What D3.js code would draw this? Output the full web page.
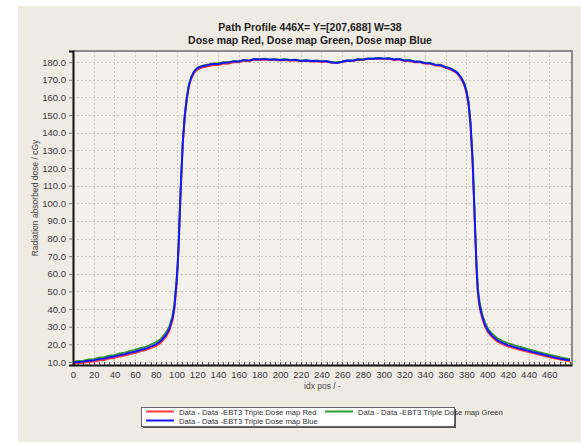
<!DOCTYPE html>
<html>
<head>
<meta charset="utf-8">
<script src="https://cdn.jsdelivr.net/npm/d3@7"></script>
<style>
  html, body { margin: 0; padding: 0; background: #ffffff; }
  svg { display: block; font-family: "Liberation Sans", Arial, sans-serif; }
</style>
</head>
<body>
<svg id="chart" width="581" height="444"></svg>
<script>
// Profile sample positions (idx pos)
const idxPos = [0,5,10,15,20,25,30,35,40,45,50,55,60,65,70,75,80,85,90,93,96,98,100,101,102,103,104,106,108,110,112,114,116,118,120,123,126,130,
  135,140,145,150,155,160,165,170,175,180,185,190,195,200,205,210,215,220,225,230,235,240,245,250,255,260,265,270,275,280,285,290,295,300,305,310,315,320,325,330,335,340,345,350,355,360,365,
  370,372,375,378,380,382,384,386,388,389,390,391,392,393,395,398,401,405,410,415,420,425,430,435,440,445,450,455,460,465,470,475,480];

// Radiation absorbed dose (cGy) per dose map channel
const doseRed = [9.0,9.4,9.5,10.0,10.2,10.8,11.1,11.9,12.3,13.1,13.6,14.5,15.0,16.0,16.7,17.9,19.0,21.0,24.4,27.6,33.2,40.0,53.5,62.5,74.5,90.5,106.5,132.5,149.0,159.0,166.2,170.3,172.8,174.6,175.7,176.6,177.1,177.6,
  178.2,178.3,179.0,179.1,179.9,179.9,180.7,180.5,181.3,181.2,181.5,181.2,181.2,180.9,181.1,180.8,181.0,180.4,180.7,180.3,180.5,180.1,180.3,179.6,179.7,180.0,180.7,180.6,181.2,181.2,181.8,181.7,182.0,181.7,181.9,181.2,181.4,180.7,180.7,179.9,179.9,179.1,179.0,178.0,177.9,176.7,175.7,
  174.0,172.8,170.3,166.8,162.5,156.0,143.5,122.5,90.5,74.5,59.5,49.5,44.2,40.2,35.3,30.0,26.6,24.0,21.5,20.0,18.9,18.0,17.2,16.4,15.6,14.9,14.2,13.5,12.8,12.1,11.5,10.9,10.4];

const doseGreen = [10.1,10.6,10.8,11.5,11.6,12.4,12.7,13.6,13.9,14.9,15.3,16.3,16.8,17.9,18.5,19.9,21.0,23.2,26.8,30.0,35.8,42.8,56.3,65.0,77.0,93.0,108.8,134.5,150.4,160.3,167.3,171.3,173.8,175.6,176.7,177.6,178.1,178.6,
  179.2,179.2,179.9,179.9,180.6,180.5,181.2,181.0,181.8,181.6,181.9,181.5,181.7,181.3,181.6,181.2,181.4,180.8,181.1,180.7,180.9,180.5,180.7,180.0,180.1,180.3,181.0,180.9,181.6,181.5,182.1,182.0,182.3,182.0,182.2,181.6,181.8,181.1,181.2,180.4,180.4,179.6,179.5,178.6,178.5,177.3,176.4,
  174.8,173.7,171.4,168.0,164.0,157.8,146.0,125.5,93.5,77.5,62.5,52.6,47.0,43.0,37.8,32.2,28.7,26.0,23.4,21.9,20.7,19.7,18.9,18.1,17.2,16.4,15.6,14.8,14.1,13.4,12.7,12.1,11.6];

const doseBlue = [9.6,10.0,10.2,10.7,10.9,11.6,11.9,12.7,13.1,13.9,14.4,15.3,15.8,16.8,17.5,18.7,19.9,22.0,25.5,28.8,34.5,41.5,55.0,64.0,76.0,92.0,108.0,134.0,150.0,160.0,167.0,171.0,173.5,175.3,176.4,177.3,177.8,178.3,
  178.9,178.9,179.6,179.7,180.4,180.3,181.1,180.8,181.6,181.5,181.7,181.4,181.5,181.2,181.4,181.1,181.2,180.7,180.9,180.6,180.7,180.4,180.5,179.8,179.4,180.2,180.9,180.8,181.5,181.4,182.0,181.9,182.2,182.0,182.1,181.5,181.7,180.9,181.0,180.2,180.2,179.4,179.3,178.4,178.3,177.1,176.2,
  174.5,173.4,171.0,167.5,163.5,157.0,145.0,124.0,92.0,76.0,61.0,51.0,45.5,41.5,36.5,31.0,27.5,24.8,22.3,20.8,19.6,18.7,17.9,17.1,16.3,15.5,14.8,14.0,13.3,12.6,12.0,11.4,10.9];

const xTickValues = d3.range(0, 461, 20);
const yTickValues = d3.range(10, 181, 10);

const titleLines = ["Path Profile 446X= Y=[207,688] W=38", "Dose map Red, Dose map Green, Dose map Blue"];
const xTitle = "idx pos / -";
const yTitle = "Radiation absorbed dose / cGy";

const seriesList = [
  { name: "Data - Data -EBT3 Triple Dose map Red", values: doseRed, color: "#ff3a3a" },
  { name: "Data - Data -EBT3 Triple Dose map Green", values: doseGreen, color: "#2f9a2f" },
  { name: "Data - Data -EBT3 Triple Dose map Blue", values: doseBlue, color: "#1414ff" }
];

const svg = d3.select("#chart");

// panel background
svg.append("rect").attr("x", 18).attr("y", 6).attr("width", 563).attr("height", 436).attr("fill", "#eeebe3");

const plot = { left: 73, top: 51, right: 572, bottom: 365 };
const x = d3.scaleLinear().domain([0, 482]).range([plot.left, plot.right]);
const y = d3.scaleLinear().domain([8.3, 186.3]).range([plot.bottom, plot.top]);

// plot area
svg.append("rect").attr("x", plot.left).attr("y", plot.top)
  .attr("width", plot.right - plot.left).attr("height", plot.bottom - plot.top)
  .attr("fill", "#f2f0e9");

// grid
const grid = svg.append("g").attr("stroke", "#cbc9c2").attr("stroke-dasharray", "2,2").attr("stroke-width", 1);
xTickValues.slice(1).forEach(v => {
  grid.append("line").attr("x1", Math.round(x(v)) + 0.5).attr("x2", Math.round(x(v)) + 0.5)
    .attr("y1", plot.top).attr("y2", plot.bottom);
});
yTickValues.forEach(v => {
  grid.append("line").attr("y1", Math.round(y(v)) + 0.5).attr("y2", Math.round(y(v)) + 0.5)
    .attr("x1", plot.left).attr("x2", plot.right);
});

// minor ticks along the bottom axis
const minor = svg.append("g").attr("stroke", "#555").attr("stroke-width", 1);
d3.range(0, 481, 5).forEach(v => {
  minor.append("line").attr("x1", Math.round(x(v)) + 0.5).attr("x2", Math.round(x(v)) + 0.5)
    .attr("y1", plot.bottom - 3).attr("y2", plot.bottom);
});

// curves
const line = d3.line().x((d, i) => x(idxPos[i])).y(d => y(d));
const curves = svg.append("g");
seriesList.forEach(s => {
  curves.append("path").datum(s.values).attr("d", line)
    .attr("fill", "none").attr("stroke", s.color).attr("stroke-width", 1.9)
    .attr("stroke-linejoin", "round");
});

// frame: top/right in gray, left/bottom axes in black
svg.append("line").attr("x1", plot.left).attr("x2", plot.right + 1).attr("y1", plot.top).attr("y2", plot.top)
  .attr("stroke", "#8a8a8a").attr("stroke-width", 2);
svg.append("line").attr("x1", plot.right).attr("x2", plot.right).attr("y1", plot.top).attr("y2", plot.bottom)
  .attr("stroke", "#8a8a8a").attr("stroke-width", 2);

const yAxis = svg.append("g").attr("transform", `translate(${plot.left},0)`)
  .call(d3.axisLeft(y).tickValues(yTickValues).tickFormat(d3.format(".1f")).tickSize(4).tickPadding(3));
yAxis.select(".domain").attr("stroke", "#111").attr("stroke-width", 2);
yAxis.selectAll(".tick line").attr("stroke", "#777");
yAxis.selectAll("text").attr("font-size", 9.5).attr("fill", "#3a3a3a")
  .attr("font-family", "'Liberation Sans', Arial, sans-serif");

const xAxis = svg.append("g").attr("transform", `translate(0,${plot.bottom})`)
  .call(d3.axisBottom(x).tickValues(xTickValues).tickFormat(d3.format("d")).tickSize(0).tickPadding(6));
xAxis.select(".domain").attr("stroke", "#111").attr("stroke-width", 2);
xAxis.selectAll("text").attr("font-size", 9.5).attr("fill", "#3a3a3a")
  .attr("font-family", "'Liberation Sans', Arial, sans-serif");

// titles
svg.append("g").selectAll("text").data(titleLines).join("text")
  .attr("x", 310).attr("y", (d, i) => 31 + i * 13)
  .attr("text-anchor", "middle").attr("font-weight", "bold").attr("font-size", 10.5).attr("fill", "#222")
  .text(d => d);

svg.append("text").attr("x", (plot.left + plot.right) / 2).attr("y", 389)
  .attr("text-anchor", "middle").attr("font-size", 8.5).attr("fill", "#444").text(xTitle);

svg.append("text").attr("transform", `translate(38,${(plot.top + plot.bottom) / 2 - 10}) rotate(-90)`)
  .attr("text-anchor", "middle").attr("font-size", 8.5).attr("fill", "#444").text(yTitle);

// legend
const lg = svg.append("g");
lg.append("rect").attr("x", 143).attr("y", 409).attr("width", 313).attr("height", 19).attr("fill", "#555");
lg.append("rect").attr("x", 141.5).attr("y", 407.5).attr("width", 313).attr("height", 19)
  .attr("fill", "#ffffff").attr("stroke", "#666").attr("stroke-width", 1);
const legendSlots = [
  { s: seriesList[0], lx: 146, ly: 411.5 },
  { s: seriesList[1], lx: 325, ly: 411.5 },
  { s: seriesList[2], lx: 146, ly: 420.5 }
];
legendSlots.forEach(p => {
  lg.append("line").attr("x1", p.lx).attr("x2", p.lx + 28).attr("y1", p.ly).attr("y2", p.ly)
    .attr("stroke", p.s.color).attr("stroke-width", 2);
  lg.append("text").attr("x", p.lx + 33).attr("y", p.ly + 3).attr("font-size", 7.7).attr("fill", "#333").text(p.s.name);
});
</script>
</body>
</html>
